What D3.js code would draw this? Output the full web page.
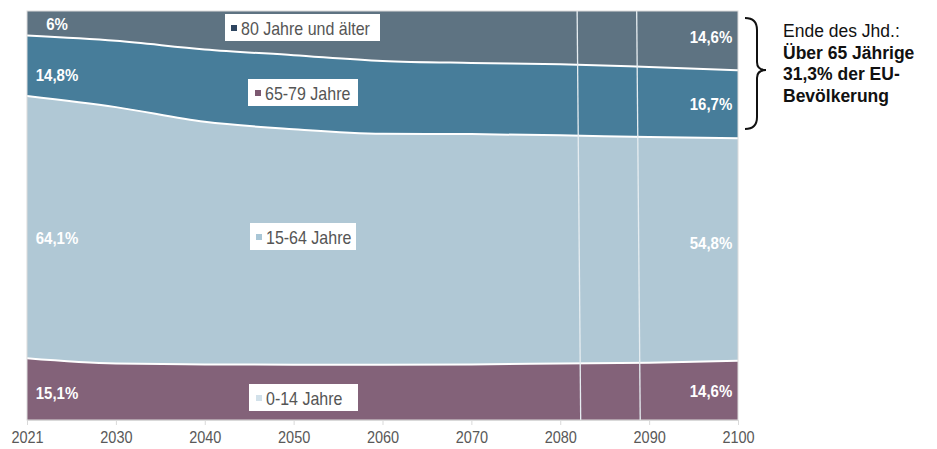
<!DOCTYPE html>
<html>
<head>
<meta charset="utf-8">
<script src="https://cdn.jsdelivr.net/npm/d3@7"></script>
<style>
  html, body { margin: 0; padding: 0; background: #fff; }
  svg { display: block; font-family: "Liberation Sans", Arial, sans-serif; }
</style>
</head>
<body>
<svg id="chart" width="937" height="449"></svg>
<script>
// EU population by age group, share of total (%)
const years = ["2021", "2030", "2040", "2050", "2060", "2070", "2080", "2090", "2100"];
const age0to14   = [15.1, 13.8, 13.6, 13.5, 13.5, 13.6, 13.8, 14.0, 14.6];
const age15to64  = [64.1, 62.7, 59.3, 57.6, 56.5, 56.3, 55.8, 55.2, 54.8];
const age65to79  = [14.8, 16.2, 17.7, 18.1, 17.8, 17.4, 17.4, 17.1, 16.7];
const age80plus  = [6.0, 7.3, 9.4, 10.8, 12.2, 12.7, 13.0, 13.7, 14.6];

const seriesKeys   = ["0-14 Jahre", "15-64 Jahre", "65-79 Jahre", "80 Jahre und älter"];
const seriesValues = [age0to14, age15to64, age65to79, age80plus];
const legendLabels = ["0-14 Jahre", "15-64 Jahre", "65-79 Jahre", "80 Jahre und älter"];
const noteLines    = ["Ende des Jhd.:", "Über 65 Jährige", "31,3% der EU-", "Bevölkerung"];

const fmt = v => (Number.isInteger(v) ? String(v) : String(v).replace(".", ",")) + "%";

const fillColors   = ["#836279", "#b0c8d5", "#477d9a", "#5e7382"];
const swatchColors = ["#d2e1ea", "#a9c6d6", "#7c5870", "#2e4560"];

const rows = years.map((y, i) => {
  const r = { year: y };
  seriesKeys.forEach((k, s) => { r[k] = seriesValues[s][i]; });
  return r;
});

const svg = d3.select("#chart");
const plot = { left: 27, right: 738, top: 11, bottom: 420 };
const stretch = 1.15; // slightly tall lettering

const x = d3.scalePoint().domain(years).range([plot.left, plot.right]);
const y = d3.scaleLinear().domain([0, 1]).range([plot.bottom, plot.top]);

const stack = d3.stack().keys(seriesKeys).offset(d3.stackOffsetExpand);
const layers = stack(rows);

const area = d3.area()
  .x(d => x(d.data.year))
  .y0(d => y(d[0]))
  .y1(d => y(d[1]))
  .curve(d3.curveMonotoneX);

const edge = d3.line()
  .x(d => x(d.data.year))
  .y(d => y(d[1]))
  .curve(d3.curveMonotoneX);

svg.append("g").selectAll("path")
  .data(layers)
  .join("path")
  .attr("d", area)
  .attr("fill", (d, i) => fillColors[i]);

// white separators between the age bands
svg.append("g").selectAll("path")
  .data(layers.slice(0, layers.length - 1))
  .join("path")
  .attr("d", edge)
  .attr("fill", "none")
  .attr("stroke", "#ffffff")
  .attr("stroke-width", 2);

// thin light dividers across the late decades
const idx = d3.scaleLinear().domain([0, years.length - 1]).range([plot.left, plot.right]);
[[6.19, 6.23], [6.86, 6.9]].forEach(([a, b]) => {
  svg.append("line")
    .attr("x1", idx(a)).attr("y1", plot.top)
    .attr("x2", idx(b)).attr("y2", plot.bottom)
    .attr("stroke", "#e6edf1").attr("stroke-width", 1.3);
});

// frame
svg.append("rect")
  .attr("x", plot.left).attr("y", plot.top)
  .attr("width", plot.right - plot.left).attr("height", plot.bottom - plot.top)
  .attr("fill", "none").attr("stroke", "#dcdcdc").attr("stroke-width", 1);

// x axis
const axis = svg.append("g")
  .attr("transform", `translate(0,${plot.bottom})`)
  .call(d3.axisBottom(x).tickSize(5).tickPadding(8));
axis.select(".domain").attr("stroke", "#d9d9d9");
axis.selectAll(".tick line").attr("stroke", "#d9d9d9");
axis.selectAll(".tick text")
  .attr("y", 0).attr("dy", 0)
  .attr("transform", `translate(0,23) scale(1,${stretch})`)
  .attr("fill", "#595959")
  .style("font-size", "14.5px")
  .style("font-family", "'Liberation Sans', Arial, sans-serif");

// tall text helper
function tallText(px, py, str) {
  return svg.append("text")
    .attr("transform", `translate(${px},${py}) scale(1,${stretch})`)
    .text(str);
}

// value labels at both ends
const labelNudgeLeft  = [10, 17, 15, 7];
const labelNudgeRight = [7, 0, 6, 2];
const ends = [
  { i: 0, cx: plot.left + 30, nudge: labelNudgeLeft },
  { i: years.length - 1, cx: plot.right - 27, nudge: labelNudgeRight }
];
ends.forEach(e => {
  layers.forEach((layer, s) => {
    const d = layer[e.i];
    tallText(e.cx, (y(d[0]) + y(d[1])) / 2 + e.nudge[s], fmt(seriesValues[s][e.i]))
      .attr("text-anchor", "middle")
      .attr("fill", "#ffffff")
      .style("font-size", "15px")
      .style("font-weight", "bold");
  });
});

// legend tags placed inside their bands
const legendPos = [
  { x: 249, y: 384, w: 109, tx: 266, ty: 405 },
  { x: 250, y: 223, w: 106, tx: 266, ty: 244 },
  { x: 248, y: 79,  w: 110, tx: 265, ty: 100 },
  { x: 225, y: 14,  w: 155, tx: 241, ty: 35 }
];
legendLabels.forEach((lab, s) => {
  const p = legendPos[s];
  svg.append("rect").attr("x", p.x).attr("y", p.y).attr("width", p.w).attr("height", 27).attr("fill", "#ffffff");
  svg.append("rect").attr("x", p.tx - 10).attr("y", p.ty - 10).attr("width", 6).attr("height", 6).attr("fill", swatchColors[s]);
  tallText(p.tx, p.ty, lab).attr("fill", "#555555").style("font-size", "16px");
});

// brace and note for the 65+ share
svg.append("path")
  .attr("d", "M745,18 Q757,18 757,30 L757,62 Q757,70 766,70 Q757,70 757,78 L757,117 Q757,129 745,129")
  .attr("fill", "none").attr("stroke", "#111111").attr("stroke-width", 2);

noteLines.forEach((t, i) => {
  svg.append("text")
    .attr("x", 783).attr("y", 37 + i * 21.5)
    .attr("fill", "#111111")
    .style("font-size", "17.5px")
    .style("font-weight", i === 0 ? "normal" : "bold")
    .text(t);
});
</script>
</body>
</html>
